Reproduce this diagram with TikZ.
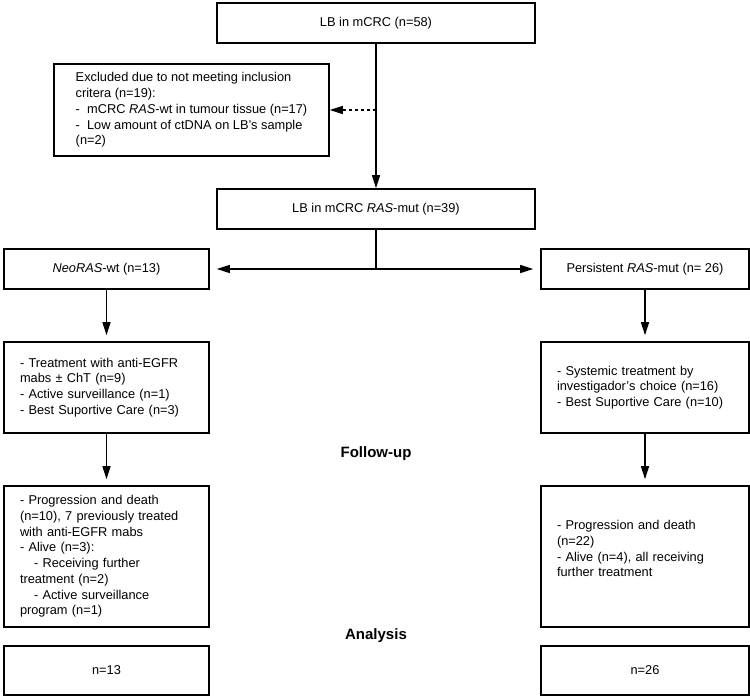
\documentclass[tikz,border=0pt]{standalone}
\usepackage{fontspec}
\setmainfont{Liberation Sans}
\usetikzlibrary{arrows.meta}
\begin{document}
\begin{tikzpicture}[x=1pt, y=-1pt, >={Triangle[length=13pt,width=8pt]},
    box/.style={draw, line width=1.6pt, inner sep=0pt, font=\fontsize{12.8}{15.7}\selectfont},
    txt/.style={align=left, text width=#1},
    link/.style={->, line width=1.2pt},
    head/.style={font=\bfseries\fontsize{15}{18}\selectfont}]
\useasboundingbox (0,0) rectangle (750,700);
\node[box, minimum width=318pt, minimum height=40pt] (lb) at (376,23) {LB in mCRC (n=58)};
\node[box, minimum width=275pt, minimum height=92pt, align=left] (excl) at (191.5,110)
    {Excluded due to not meeting inclusion\\ critera (n=19):\\ - \ mCRC \textit{RAS}-wt in tumour tissue (n=17)\\ - \ Low amount of ctDNA on LB's sample\\ (n=2)};
\node[box, minimum width=318pt, minimum height=40pt] (mut) at (376,209) {LB in mCRC \textit{RAS}-mut (n=39)};
\node[box, minimum width=205pt, minimum height=40pt] (neo) at (106.5,269) {\textit{NeoRAS}-wt (n=13)};
\node[box, minimum width=208pt, minimum height=40pt] (pers) at (645,269) {Persistent \textit{RAS}-mut (n= 26)};
\node[box, minimum width=205pt, minimum height=91pt, txt=173pt] (treatL) at (106.5,387.5)
    {- Treatment with anti-EGFR\\ mabs ± ChT (n=9)\\ - Active surveillance (n=1)\\ - Best Suportive Care (n=3)};
\node[box, minimum width=208pt, minimum height=91pt, txt=176pt] (treatR) at (645,387.5)
    {- Systemic treatment by\\ investigador's choice (n=16)\\ - Best Suportive Care (n=10)};
\node[box, minimum width=205pt, minimum height=141pt, txt=173pt] (progL) at (106.5,556.5)
    {- Progression and death\\ (n=10), 7 previously treated\\ with anti-EGFR mabs\\ - Alive (n=3):\\ \hspace*{14pt}- Receiving further\\ treatment (n=2)\\ \hspace*{14pt}- Active surveillance\\ program (n=1)};
\node[box, minimum width=208pt, minimum height=141pt, txt=176pt] (progR) at (645,556.5)
    {- Progression and death\\ (n=22)\\ - Alive (n=4), all receiving\\ further treatment\\ \mbox{}};
\node[box, minimum width=205pt, minimum height=49pt] (resL) at (106.5,670.5) {n=13};
\node[box, minimum width=208pt, minimum height=49pt] (resR) at (645,670.5) {n=26};
\node[head] (fu) at (376,454) {Follow-up};
\node[head] (an) at (376,636) {Analysis};

\coordinate (cut) at (376,110);
\coordinate (split) at (376,269);
\draw[link] (lb) -- (mut);
\draw[link, dash pattern=on 3pt off 3pt] (cut) -- (excl);
\draw[line width=1.2pt] (mut) -- (split);
\draw[link, shorten >=7pt] (split) -- (neo);
\draw[link, shorten >=7pt] (split) -- (pers);
\foreach \a/\b in {neo/treatL, treatL/progL, pers/treatR, treatR/progR}
{
    \draw[link, shorten >=6pt] (\a) -- (\b);
}
\end{tikzpicture}
\end{document}
